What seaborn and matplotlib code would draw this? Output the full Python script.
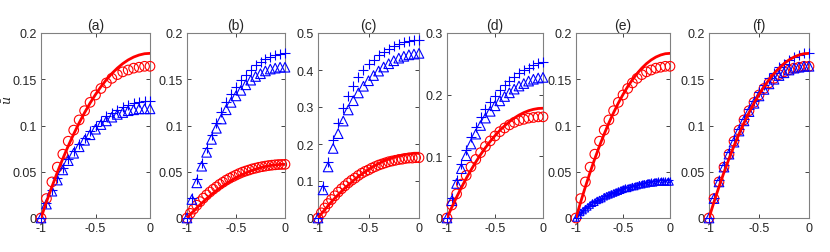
import numpy as np
import pandas as pd
import matplotlib
matplotlib.use('Agg')
import matplotlib.pyplot as plt
import seaborn as sns

# x grids
x21 = np.linspace(-1, 0, 21)
x31 = np.linspace(-1, 0, 31)
x41 = np.linspace(-1, 0, 41)

# red solid curve (a, d, e, f)
line_std = [0, 0.0174, 0.0338, 0.0494, 0.0641, 0.0779, 0.0908, 0.1028, 0.1139, 0.1242, 0.1335,
            0.1420, 0.1495, 0.1562, 0.1620, 0.1669, 0.1709, 0.1740, 0.1762, 0.1776, 0.178]
# red circles (a, d, e, f)
circ_std = [0, 0.021, 0.039, 0.055, 0.069, 0.083, 0.095, 0.106, 0.116, 0.125, 0.133,
            0.140, 0.146, 0.151, 0.155, 0.158, 0.160, 0.162, 0.163, 0.164, 0.164]

# (a)
a_plus = [0, 0.016, 0.030, 0.043, 0.054, 0.064, 0.072, 0.080, 0.087, 0.094, 0.100,
          0.105, 0.110, 0.114, 0.117, 0.120, 0.122, 0.124, 0.125, 0.126, 0.126]
a_tri = [0, 0.015, 0.029, 0.041, 0.052, 0.062, 0.070, 0.077, 0.084, 0.090, 0.096,
         0.101, 0.105, 0.109, 0.112, 0.114, 0.116, 0.117, 0.118, 0.118, 0.118]

# (b)
b_line = [0, 0.0057, 0.011, 0.016, 0.0209, 0.0254, 0.0296, 0.0335, 0.0371, 0.0405, 0.0435,
          0.0463, 0.0487, 0.0509, 0.0528, 0.0544, 0.0557, 0.0567, 0.0574, 0.0579, 0.058]
b_circ = [0, 0.005, 0.0096, 0.0138, 0.0177, 0.0215, 0.025, 0.0281, 0.031, 0.0336, 0.0363,
          0.0386, 0.0409, 0.0429, 0.0447, 0.0464, 0.0481, 0.0496, 0.0508, 0.0519, 0.0531,
          0.0539, 0.0548, 0.0555, 0.0561, 0.0567, 0.0571, 0.0575, 0.0578, 0.0579, 0.058]
b_plus = [0, 0.022, 0.042, 0.060, 0.076, 0.090, 0.103, 0.115, 0.125, 0.134, 0.142,
          0.149, 0.155, 0.160, 0.165, 0.169, 0.172, 0.174, 0.176, 0.177, 0.178]
b_tri = [0, 0.020, 0.038, 0.056, 0.071, 0.085, 0.097, 0.107, 0.117, 0.125, 0.132,
         0.138, 0.144, 0.149, 0.153, 0.156, 0.159, 0.161, 0.162, 0.163, 0.163]

# (c)
c_line = [0, 0.017, 0.033, 0.049, 0.063, 0.077, 0.089, 0.101, 0.112, 0.122, 0.131,
          0.140, 0.147, 0.154, 0.159, 0.164, 0.168, 0.171, 0.173, 0.175, 0.175]
c_circ = [0, 0.014, 0.027, 0.039, 0.050, 0.060, 0.070, 0.079, 0.087, 0.095, 0.102,
          0.108, 0.115, 0.121, 0.126, 0.130, 0.135, 0.139, 0.143, 0.146, 0.149,
          0.152, 0.154, 0.156, 0.158, 0.159, 0.161, 0.162, 0.162, 0.163, 0.163]
c_plus = [0, 0.087, 0.152, 0.210, 0.258, 0.298, 0.330, 0.358, 0.380, 0.400, 0.415,
          0.428, 0.440, 0.450, 0.458, 0.465, 0.470, 0.475, 0.478, 0.480, 0.482]
c_tri = [0, 0.076, 0.138, 0.188, 0.228, 0.262, 0.292, 0.317, 0.338, 0.356, 0.371,
         0.385, 0.397, 0.408, 0.417, 0.425, 0.432, 0.437, 0.441, 0.443, 0.445]

# (d)
d_plus = [0, 0.032, 0.062, 0.088, 0.111, 0.131, 0.148, 0.163, 0.176, 0.188, 0.198,
          0.207, 0.215, 0.222, 0.229, 0.235, 0.240, 0.244, 0.248, 0.251, 0.253]
d_tri = [0, 0.028, 0.056, 0.080, 0.101, 0.120, 0.136, 0.150, 0.162, 0.173, 0.182,
         0.190, 0.197, 0.203, 0.209, 0.214, 0.218, 0.222, 0.225, 0.227, 0.228]

# (e)
e_plus = [0, 0.004, 0.007, 0.009, 0.011, 0.013, 0.015, 0.017, 0.018, 0.020, 0.021,
          0.022, 0.024, 0.025, 0.026, 0.027, 0.028, 0.029, 0.030, 0.031, 0.032,
          0.033, 0.034, 0.034, 0.035, 0.036, 0.036, 0.037, 0.038, 0.038, 0.039,
          0.039, 0.040, 0.040, 0.040, 0.041, 0.041, 0.041, 0.041, 0.041, 0.041]
e_tri = [0, 0.003, 0.006, 0.008, 0.010, 0.012, 0.014, 0.016, 0.017, 0.019, 0.020,
         0.021, 0.023, 0.024, 0.025, 0.026, 0.027, 0.028, 0.029, 0.030, 0.031,
         0.032, 0.032, 0.033, 0.034, 0.034, 0.035, 0.036, 0.036, 0.037, 0.037,
         0.038, 0.038, 0.038, 0.039, 0.039, 0.039, 0.039, 0.039, 0.039, 0.039]

# (f)
f_plus = [0, 0.022, 0.041, 0.057, 0.071, 0.084, 0.096, 0.107, 0.118, 0.127, 0.136,
          0.144, 0.151, 0.157, 0.163, 0.167, 0.171, 0.174, 0.176, 0.178, 0.178]
f_tri = [0, 0.021, 0.039, 0.055, 0.069, 0.082, 0.094, 0.105, 0.115, 0.124, 0.132,
         0.139, 0.145, 0.150, 0.154, 0.157, 0.160, 0.162, 0.163, 0.164, 0.164]

titles = ['(a)', '(b)', '(c)', '(d)', '(e)', '(f)']
ylims = [0.2, 0.2, 0.5, 0.3, 0.2, 0.2]
ysteps = [0.05, 0.05, 0.1, 0.1, 0.05, 0.05]

# axes boxes in pixels: left, right (top 34, bottom 219)
boxes = [(41, 150), (187, 285), (318, 419), (447, 543), (576, 670), (709, 809)]

panels = [
    # (line x, line y, circ x, circ y, plus x, plus y, tri x, tri y, blue size)
    (x21, line_std, x21, circ_std, x21, a_plus, x21, a_tri, 1.0),
    (x21, b_line, x31, b_circ, x21, b_plus, x21, b_tri, 1.0),
    (x21, c_line, x31, c_circ, x21, c_plus, x21, c_tri, 1.0),
    (x21, line_std, x21, circ_std, x21, d_plus, x21, d_tri, 1.0),
    (x21, line_std, x21, circ_std, x41, e_plus, x41, e_tri, 0.45),
    (x21, line_std, x21, circ_std, x21, f_plus, x21, f_tri, 1.0),
]

sns.set_style('ticks')
plt.rcParams['font.family'] = ['Liberation Sans', 'DejaVu Sans']
plt.rcParams['axes.unicode_minus'] = False
plt.rcParams['mathtext.fontset'] = 'dejavuserif'

W, H = 830, 253
fig = plt.figure(figsize=(W / 100, H / 100), dpi=100)

for i, (lx, ly, cx, cy, px, py, tx, ty, bs) in enumerate(panels):
    l, r = boxes[i]
    ax = fig.add_axes([l / W, 1 - 219 / H, (r - l) / W, (219 - 34) / H])
    s_big = 48
    sns.scatterplot(x=cx, y=cy, ax=ax, marker='o', s=s_big, facecolor='none',
                    edgecolor='red', linewidth=0.8, clip_on=False, zorder=3)
    sns.scatterplot(x=px, y=py, ax=ax, marker='+', s=s_big * bs, color='blue',
                    linewidth=0.8, clip_on=False, zorder=3)
    sns.scatterplot(x=tx, y=ty, ax=ax, marker='^', s=s_big * bs, facecolor='none',
                    edgecolor='blue', linewidth=0.8, clip_on=False, zorder=3)
    sns.lineplot(x=lx, y=ly, ax=ax, color='red', linewidth=2.0, zorder=4)
    ax.set_xlim(-1, 0)
    ax.set_ylim(0, ylims[i])
    ax.set_xticks([-1, -0.5, 0])
    ax.set_xticklabels(['-1', '-0.5', '0'])
    yt = np.round(np.arange(0, ylims[i] + 1e-9, ysteps[i]), 2)
    ax.set_yticks(yt)
    ax.set_yticklabels(['0' if v == 0 else f'{v:g}' for v in yt])
    ax.tick_params(direction='in', top=True, right=True, length=3, width=0.6,
                   labelsize=9, colors='#262626', pad=3)
    for sp in ax.spines.values():
        sp.set_visible(True)
        sp.set_color('#808080')
        sp.set_linewidth(0.8)
    ax.set_title(titles[i], fontsize=10, pad=3)
    ax.set_xlabel('')
    ax.set_ylabel('')

fig.text(8 / W, 1 - 100 / H, r'$\bar{u}$', rotation=90, fontsize=9,
         ha='center', va='center', color='#262626')

fig.savefig('out.png', dpi=100)
